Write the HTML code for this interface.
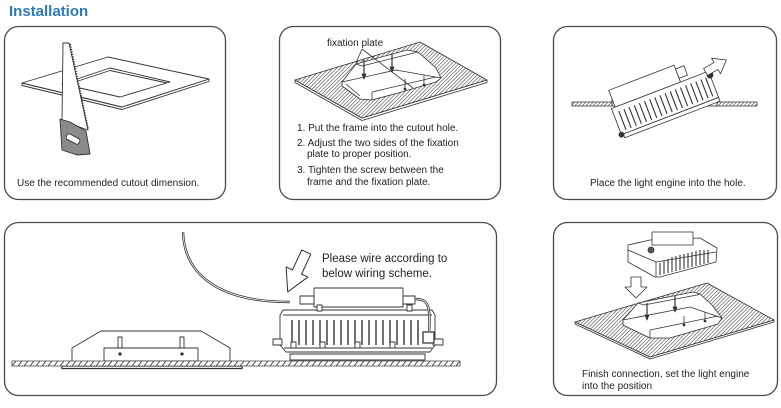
<!DOCTYPE html>
<html>
<head>
<meta charset="utf-8">
<style>
  html,body{margin:0;padding:0;background:#fff;}
  body{width:781px;height:408px;overflow:hidden;}
  svg{display:block;}
  text{font-family:"Liberation Sans",sans-serif;fill:#222;}
</style>
</head>
<body>
<svg width="781" height="408" viewBox="0 0 781 408" xmlns="http://www.w3.org/2000/svg">
  <defs>
    <pattern id="h" width="2.6" height="2.6" patternUnits="userSpaceOnUse" patternTransform="rotate(45)">
      <rect width="2.6" height="2.6" fill="#fff"/>
      <line x1="0" y1="0" x2="0" y2="2.6" stroke="#3a3a3a" stroke-width="1.1"/>
    </pattern>
    <pattern id="fl" x="0" y="361" width="6" height="5" patternUnits="userSpaceOnUse">
      <rect width="6" height="5" fill="#fff"/>
      <line x1="0" y1="5" x2="4" y2="0" stroke="#444" stroke-width="0.9"/>
    </pattern>
  </defs>

  <rect width="781" height="408" fill="#fff"/>

  <!-- Title -->
  <text x="9" y="16" font-size="15" font-weight="bold" style="fill:#2a7ab8">Installation</text>

  <!-- Boxes -->
  <g fill="none" stroke="#4a4a4a" stroke-width="1.3">
    <rect x="4.5" y="26.5" width="221" height="173" rx="14"/>
    <rect x="279.5" y="26.5" width="221" height="173" rx="14"/>
    <rect x="553.5" y="26.5" width="223" height="173" rx="14"/>
    <rect x="4.5" y="222.5" width="492" height="173" rx="14"/>
    <rect x="553.5" y="222.5" width="224" height="173" rx="14"/>
  </g>

  <!-- ===== Box 1: cutout + saw ===== -->
  <g stroke="#333" stroke-width="0.9" stroke-linejoin="round">
    <polygon points="22,83 22,85.5 122,109.5 209,81.5 209,79 122,107" fill="#fff"/>
    <polygon points="22,83 108,57 209,79 122,107" fill="#fff"/>
    <polygon points="62,84 110,68 170,82 120,97" fill="#fff"/>
    <polyline points="64.5,85.5 110,70.5 167,83" fill="none"/>
    <polygon points="63,43 69,43 88,130 62,121" fill="#fff"/>
    <line x1="70" y1="44" x2="88" y2="129" stroke="#333" stroke-width="1.8" stroke-dasharray="1.3 1.2"/>
    <polygon points="60,119 70,122 86,131 90,154 77,155 62,150" fill="#8a8a8a"/>
    <rect x="66" y="136" width="14" height="6" rx="2" fill="#fff" transform="rotate(28 73 139)"/>
  </g>
  <text x="17" y="186" font-size="10">Use the recommended cutout dimension.</text>

  <!-- ===== Box 2: frame + fixation plate ===== -->
  <g stroke="#333" stroke-width="0.8" stroke-linejoin="round">
    <polygon points="295,80 295,82.5 362,120.5 487,82.5 487,80 362,118" fill="#fff"/>
    <polygon points="295,80 420,42 487,80 362,118" fill="url(#h)"/>
    <polygon points="342,82 356,64 407,50 418,52 436,68 441,78 436,82 398,93 372,100 360,99 342,86" fill="#fff"/>
    <polyline points="342,82 396,70 441,78" fill="none"/>
    <polyline points="356,64 362,66 410,54 418,52" fill="none"/>
    <polyline points="372,100 372,92 436,77" fill="none"/>
    <polyline points="346,84 360,96" fill="none"/>
    <line x1="405" y1="79" x2="405" y2="88"/>
    <line x1="424" y1="75" x2="424" y2="84"/>
    <circle cx="405" cy="89" r="1" fill="#333"/>
    <circle cx="424" cy="85" r="1" fill="#333"/>
    <line x1="364" y1="60" x2="364" y2="76" stroke-width="1.2"/>
    <polygon points="362,74 366,74 364,79" fill="#333"/>
    <line x1="392" y1="54" x2="392" y2="69" stroke-width="1.2"/>
    <polygon points="390,67 394,67 392,72" fill="#333"/>
    <line x1="362" y1="49" x2="356" y2="63"/>
    <line x1="362" y1="49" x2="413" y2="88"/>
  </g>
  <text x="327" y="46" font-size="10">fixation plate</text>
  <text x="297" y="131" font-size="10">1. Put the frame into the cutout hole.</text>
  <text x="297" y="146" font-size="10">2. Adjust the two sides of the fixation</text>
  <text x="307" y="157" font-size="10">plate to proper position.</text>
  <text x="297" y="173" font-size="10">3. Tighten the screw between the</text>
  <text x="307" y="185" font-size="10">frame and the fixation plate.</text>

  <!-- ===== Box 3: place light engine ===== -->
  <g stroke="#333" stroke-width="0.8" stroke-linejoin="round">
    <rect x="572" y="102" width="40" height="4" fill="url(#h)"/>
    <rect x="717" y="102" width="40" height="4" fill="url(#h)"/>
    <polyline points="612,106 612,96 632,84" fill="none"/>
    <polyline points="612,106 624,106" fill="none"/>
    <polyline points="717,106 717,96 704,88" fill="none"/>
    <polyline points="703,106 717,106" fill="none"/>
    <g transform="translate(665,103) rotate(-21)">
      <rect x="-48" y="-32" width="70" height="18" fill="#fff"/>
      <rect x="22" y="-28" width="9" height="10" fill="#fff"/>
      <rect x="-52" y="-14" width="104" height="28" fill="#fff"/>
      <g stroke-width="1.1">
        <line x1="-46" y1="-9" x2="-46" y2="11"/><line x1="-40.5" y1="-9" x2="-40.5" y2="11"/>
        <line x1="-35" y1="-9" x2="-35" y2="11"/><line x1="-29.5" y1="-9" x2="-29.5" y2="11"/>
        <line x1="-24" y1="-9" x2="-24" y2="11"/><line x1="-18.5" y1="-9" x2="-18.5" y2="11"/>
        <line x1="-13" y1="-9" x2="-13" y2="11"/><line x1="-7.5" y1="-9" x2="-7.5" y2="11"/>
        <line x1="-2" y1="-9" x2="-2" y2="11"/><line x1="3.5" y1="-9" x2="3.5" y2="11"/>
        <line x1="9" y1="-9" x2="9" y2="11"/><line x1="14.5" y1="-9" x2="14.5" y2="11"/>
        <line x1="20" y1="-9" x2="20" y2="11"/><line x1="25.5" y1="-9" x2="25.5" y2="11"/>
        <line x1="31" y1="-9" x2="31" y2="11"/><line x1="36.5" y1="-9" x2="36.5" y2="11"/>
        <line x1="42" y1="-9" x2="42" y2="11"/><line x1="47" y1="-9" x2="47" y2="11"/>
      </g>
      <rect x="-50" y="14" width="102" height="4" fill="#fff"/>
      <circle cx="52" cy="-10" r="3" fill="#333"/>
      <circle cx="-52" cy="14" r="2.5" fill="#333"/>
    </g>
    <polygon points="-12,-4 0,-4 0,-9 12,0 0,9 0,4 -12,4" fill="#fff" transform="translate(716,66) rotate(-30)"/>
  </g>
  <text x="590" y="186" font-size="10">Place the light engine into the hole.</text>

  <!-- ===== Box 4: wiring ===== -->
  <g stroke="#333" stroke-width="0.9" stroke-linejoin="round">
    <path d="M183,232 C184,268 210,302 290,302" fill="none" stroke="#333" stroke-width="2.4"/>
    <path d="M183,232 C184,268 210,302 290,302" fill="none" stroke="#fff" stroke-width="0.8"/>
    <polygon points="72,362 72,348 101,331 201,331 230,348 230,362" fill="#fff"/>
    <rect x="104" y="348" width="94" height="13" fill="#fff"/>
    <rect x="118" y="337" width="4" height="11" fill="#fff"/>
    <rect x="180" y="337" width="4" height="11" fill="#fff"/>
    <circle cx="120" cy="354" r="1.2" fill="#333"/>
    <circle cx="182" cy="354" r="1.2" fill="#333"/>
    <rect x="62" y="366" width="180" height="2.5" fill="#fff" stroke-width="1.3"/>
    <rect x="290" y="354" width="135" height="6" fill="#fff"/>
    <path d="M280,315 L283,310 L432,310 L435,315 L435,345 L430,352 L286,352 L280,345 Z" fill="#fff"/>
    <line x1="283" y1="315" x2="432" y2="315"/>
    <g stroke-width="1.4">
      <line x1="292" y1="320" x2="292" y2="345"/><line x1="299" y1="320" x2="299" y2="345"/>
      <line x1="306" y1="320" x2="306" y2="345"/><line x1="313" y1="320" x2="313" y2="345"/>
      <line x1="320" y1="320" x2="320" y2="345"/><line x1="327" y1="320" x2="327" y2="345"/>
      <line x1="334" y1="320" x2="334" y2="345"/><line x1="341" y1="320" x2="341" y2="345"/>
      <line x1="348" y1="320" x2="348" y2="345"/><line x1="355" y1="320" x2="355" y2="345"/>
      <line x1="362" y1="320" x2="362" y2="345"/><line x1="369" y1="320" x2="369" y2="345"/>
      <line x1="376" y1="320" x2="376" y2="345"/><line x1="383" y1="320" x2="383" y2="345"/>
      <line x1="390" y1="320" x2="390" y2="345"/><line x1="397" y1="320" x2="397" y2="345"/>
      <line x1="404" y1="320" x2="404" y2="345"/><line x1="411" y1="320" x2="411" y2="345"/>
      <line x1="418" y1="320" x2="418" y2="345"/>
    </g>
    <rect x="291" y="342" width="5" height="6" fill="#fff"/>
    <rect x="320" y="342" width="5" height="6" fill="#fff"/>
    <rect x="355" y="342" width="5" height="6" fill="#fff"/>
    <rect x="390" y="342" width="5" height="6" fill="#fff"/>
    <line x1="284" y1="348" x2="432" y2="348"/>
    <rect x="273" y="339" width="9" height="6" fill="#fff"/>
    <rect x="433" y="339" width="10" height="6" fill="#fff"/>
    <rect x="423" y="332" width="11" height="11" fill="#fff" stroke-width="1.3"/>
    <rect x="314" y="288" width="89" height="19" fill="#fff"/>
    <rect x="300" y="296" width="14" height="8" fill="#fff"/>
    <rect x="403" y="296" width="12" height="8" fill="#fff"/>
    <rect x="317" y="305" width="5" height="6" fill="#fff"/>
    <rect x="407" y="305" width="5" height="6" fill="#fff"/>
    <path d="M415,299 C428,299 431,305 429,333" fill="none" stroke-width="2.4"/>
    <path d="M415,299 C428,299 431,305 429,333" fill="none" stroke="#fff" stroke-width="0.8"/>
    <rect x="12" y="361" width="448" height="5" fill="url(#fl)" stroke="#444" stroke-width="0.8"/>
    <polygon points="-5,-22 5,-22 5,0 12,0 0,22 -12,0 -5,0" fill="#fff" stroke-width="1" transform="translate(297,272) rotate(25)"/>
  </g>
  <text x="322" y="262" font-size="11.5">Please wire according to</text>
  <text x="322" y="277" font-size="11.5">below wiring scheme.</text>

  <!-- ===== Box 5: set light engine ===== -->
  <g stroke="#333" stroke-width="0.8" stroke-linejoin="round">
    <polygon points="575,322 575,324 650,359 774,322 774,320 650,357" fill="#fff"/>
    <polygon points="575,322 707,283 774,320 650,357" fill="url(#h)"/>
    <polygon points="623,320 638,303 693,292 700,294 712,305 722,318 718,324 670,338 650,338 623,325" fill="#fff"/>
    <polyline points="623,320 690,307 722,318" fill="none"/>
    <polyline points="638,303 644,305 697,295 700,294" fill="none"/>
    <polyline points="650,338 650,330 718,316" fill="none"/>
    <line x1="684" y1="316" x2="684" y2="324"/>
    <line x1="705" y1="312" x2="705" y2="320"/>
    <circle cx="684" cy="325" r="1" fill="#333"/>
    <circle cx="705" cy="321" r="1" fill="#333"/>
    <line x1="647" y1="303" x2="647" y2="317" stroke-width="1.2"/>
    <polygon points="645,315 649,315 647,320" fill="#333"/>
    <line x1="675" y1="296" x2="675" y2="309" stroke-width="1.2"/>
    <polygon points="673,307 677,307 675,312" fill="#333"/>
    <polygon points="628,245 650,240 700,238 717,248 716,262 660,277 655,277 628,262" fill="#fff"/>
    <polyline points="628,250 656,262 716,252" fill="none"/>
    <line x1="656" y1="262" x2="656" y2="277"/>
    <g stroke-width="1.1">
      <line x1="660" y1="263" x2="660" y2="275"/><line x1="664" y1="261" x2="664" y2="274"/>
      <line x1="668" y1="259" x2="668" y2="273"/><line x1="672" y1="257" x2="672" y2="272"/>
      <line x1="676" y1="256" x2="676" y2="271"/><line x1="680" y1="255" x2="680" y2="270"/>
      <line x1="684" y1="254" x2="684" y2="269"/><line x1="688" y1="253" x2="688" y2="268"/>
      <line x1="692" y1="252" x2="692" y2="267"/><line x1="696" y1="251" x2="696" y2="266"/>
      <line x1="700" y1="250" x2="700" y2="265"/><line x1="704" y1="250" x2="704" y2="264"/>
      <line x1="708" y1="250" x2="708" y2="263"/>
    </g>
    <rect x="652" y="232" width="41" height="13" fill="#fff"/>
    <circle cx="651" cy="250" r="3" fill="#555"/>
    <polygon points="631,277 641,277 641,287 647,287 636,298 625,287 631,287" fill="#fff"/>
  </g>
  <text x="582" y="377" font-size="10">Finish connection, set the light engine</text>
  <text x="582" y="389" font-size="10">into the position</text>
</svg>
</body>
</html>
